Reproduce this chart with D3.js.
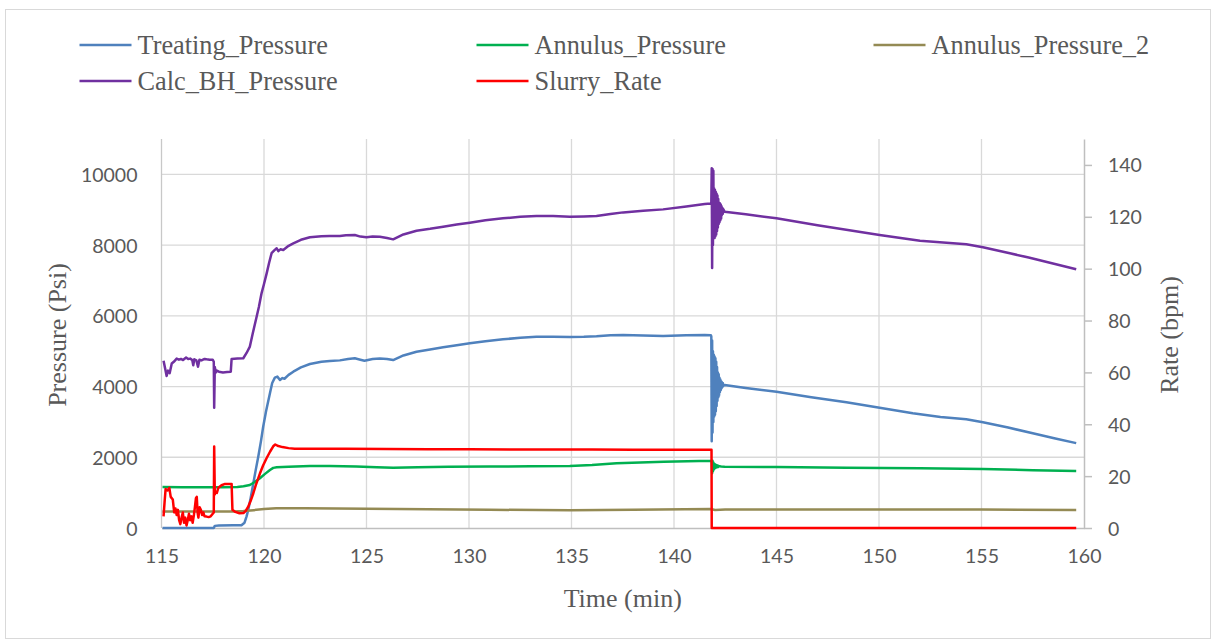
<!DOCTYPE html>
<html>
<head>
<meta charset="utf-8">
<script src="https://cdn.jsdelivr.net/npm/d3@7"></script>
<style>
  html, body { margin: 0; padding: 0; background: #ffffff; }
  svg { display: block; }
</style>
</head>
<body>
<svg id="chart" width="1216" height="644"></svg>
<script>
// ---------------- DATA ----------------
const seriesNames = ["Treating_Pressure", "Annulus_Pressure", "Annulus_Pressure_2", "Calc_BH_Pressure", "Slurry_Rate"];
const xTicks = [115, 120, 125, 130, 135, 140, 145, 150, 155, 160];
const leftTicks = [0, 2000, 4000, 6000, 8000, 10000];
const rightTicks = [0, 20, 40, 60, 80, 100, 120, 140];

// [time (min), pressure (psi)]
const treatingPressure = [
  [115.05,0],[117.55,0],[117.6,60],[117.8,70],[118.5,75],[118.9,80],[119.05,150],[119.15,330],[119.23,509],
  [119.35,850],[119.48,1263],[119.6,1650],[119.72,2017],[119.85,2450],[119.96,2864],[120.1,3300],[120.29,3808],
  [120.4,4100],[120.53,4251],[120.65,4280],[120.78,4185],[120.9,4240],[121.0,4220],[121.2,4330],[121.43,4420],
  [121.8,4540],[122.24,4637],[122.8,4700],[123.21,4720],[123.7,4740],[124.1,4780],[124.43,4798],[124.7,4760],
  [124.9,4730],[125.3,4780],[125.65,4790],[126.0,4780],[126.3,4750],[126.8,4880],[127.44,4986],[128.1,5050],
  [128.74,5109],[129.4,5170],[130.04,5222],[130.8,5280],[131.66,5335],[132.5,5380],[133.29,5410],[134.1,5410],
  [134.92,5400],[135.6,5405],[136.22,5420],[136.9,5450],[137.52,5460],[138.5,5445],[139.47,5430],[140.6,5450],
  [141.5,5455],[141.8,5450],[141.82,5420],[141.84,2450],[141.86,5300],[141.88,2700],[141.9,5000],[141.92,3000],
  [141.94,4900],[141.96,3150],[141.98,4850],[142.0,3200],[142.02,4800],[142.04,3300],[142.06,4700],[142.08,3450],
  [142.1,4550],[142.12,3600],[142.14,4400],[142.16,3700],[142.18,4350],[142.2,3750],[142.22,4250],[142.24,3850],
  [142.26,4200],[142.28,3900],[142.3,4150],[142.32,3950],[142.34,4120],[142.36,3980],[142.38,4100],[142.4,4020],
  [142.47,4043],[143.5,3960],[145.0,3855],[146.7,3700],[148.41,3553],[150.03,3403],[151.65,3243],[153.0,3140],
  [154.26,3073],[155.07,2988],[156.3,2840],[157.5,2677],[158.6,2530],[159.62,2400]
];

const annulusPressure = [
  [115.05,1160],[116,1155],[117,1150],[118,1150],[118.7,1160],[119.0,1180],[119.31,1216],[119.55,1300],
  [119.8,1405],[120.05,1530],[120.29,1640],[120.45,1700],[120.62,1716],[121.2,1735],[122.24,1753],[123.21,1753],
  [124.5,1740],[125.5,1720],[126.3,1705],[127.5,1715],[129,1730],[131,1740],[133,1745],[134.92,1753],[136,1780],
  [137.2,1829],[139.5,1870],[141.8,1900],[141.84,1905],[141.86,1550],[141.88,1900],[141.9,1600],[141.92,1850],
  [141.94,1650],[141.96,1820],[141.98,1680],[142.0,1800],[142.02,1700],[142.04,1790],[142.06,1710],[142.08,1775],
  [142.1,1720],[142.14,1765],[142.16,1725],[142.2,1750],[142.3,1740],[142.47,1735],[145,1725],[148.41,1705],
  [152,1690],[155.07,1670],[157.5,1635],[159.62,1610]
];

const annulusPressure2 = [
  [115.05,465],[117,465],[118.5,470],[119.0,480],[119.5,505],[120.0,535],[120.6,560],[122,560],[125,545],
  [128,530],[131,515],[134.92,505],[138,515],[141.8,535],[142.0,510],[142.5,520],[145,520],[150,520],[155,520],
  [159.62,510]
];

const calcBHPressure = [
  [115.1,4730],[115.18,4500],[115.25,4300],[115.32,4450],[115.4,4380],[115.5,4650],[115.6,4700],[115.74,4790],
  [115.85,4760],[115.95,4780],[116.05,4750],[116.2,4820],[116.3,4780],[116.4,4790],[116.5,4750],[116.55,4600],
  [116.6,4770],[116.7,4740],[116.78,4560],[116.85,4760],[116.95,4740],[117.1,4780],[117.2,4770],[117.35,4760],
  [117.5,4760],[117.55,4700],[117.57,3400],[117.6,4550],[117.65,4400],[117.7,4450],[117.8,4420],[118.0,4400],
  [118.2,4410],[118.38,4420],[118.42,4780],[118.7,4790],[118.99,4800],[119.15,4950],[119.31,5130],[119.45,5500],
  [119.64,5975],[119.75,6250],[119.88,6635],[120.0,6900],[120.13,7200],[120.25,7500],[120.37,7770],[120.5,7850],
  [120.62,7910],[120.7,7830],[120.8,7880],[120.94,7860],[121.2,7980],[121.43,8050],[121.8,8150],[122.24,8220],
  [122.8,8250],[123.2,8256],[123.7,8260],[124.0,8280],[124.43,8284],[124.7,8240],[125.0,8220],[125.3,8240],
  [125.65,8237],[126.0,8200],[126.3,8162],[126.8,8300],[127.44,8407],[128.1,8460],[128.74,8520],[129.4,8580],
  [130.04,8633],[130.8,8700],[131.66,8756],[132.5,8800],[133.29,8822],[134.1,8820],[134.92,8803],[135.6,8810],
  [136.22,8822],[136.9,8880],[137.52,8925],[138.5,8970],[139.47,9010],[140.6,9090],[141.5,9160],[141.8,9175],
  [141.82,9180],[141.84,10170],[141.86,7350],[141.88,10150],[141.9,8000],[141.92,10100],[141.94,8200],
  [141.96,9600],[141.98,8200],[142.0,9560],[142.02,8250],[142.04,9500],[142.06,8300],[142.08,9450],[142.1,8400],
  [142.12,9400],[142.14,8500],[142.16,9300],[142.18,8600],[142.2,9200],[142.22,8650],[142.24,9180],[142.26,8700],
  [142.28,9150],[142.3,8750],[142.32,9100],[142.34,8850],[142.36,9050],[142.38,8880],[142.4,9020],[142.47,8944],
  [143.5,8870],[145.0,8756],[147.0,8560],[150.03,8284],[152.0,8120],[154.26,8021],[155.07,7937],[157.3,7650],
  [159.62,7315]
];

// [time (min), rate (bpm)]
const slurryRate = [
  [115.1,4.5],[115.15,10],[115.2,15],[115.3,14.5],[115.38,15.5],[115.45,12],[115.55,11],[115.62,6],[115.68,7.5],
  [115.74,5],[115.8,7],[115.86,3],[115.92,1.5],[115.98,4],[116.04,6],[116.1,2],[116.16,4],[116.22,1],[116.28,3],
  [116.34,5.5],[116.4,3],[116.46,4.5],[116.52,2],[116.58,5],[116.63,8],[116.68,11.5],[116.72,12],[116.76,6],
  [116.8,4],[116.86,8],[116.92,7],[116.98,5],[117.04,6],[117.1,4.5],[117.2,4.4],[117.3,4.2],[117.4,4.5],[117.5,5.5],
  [117.55,6],[117.57,31.4],[117.6,13],[117.64,14],[117.7,13.5],[117.77,15.5],[117.85,16],[117.93,16.5],[118.1,17],
  [118.3,17],[118.42,17],[118.46,7],[118.6,6.2],[118.8,5.7],[119.0,5.8],[119.1,6.5],[119.23,8.2],[119.35,10.5],
  [119.48,13.4],[119.6,16.5],[119.8,21],[119.95,24],[120.13,27],[120.3,29.5],[120.45,31.5],[120.55,32.2],
  [120.7,31.6],[120.9,31.2],[121.2,30.8],[121.5,30.6],[122,30.6],[124,30.6],[126,30.5],[128,30.4],[130,30.4],
  [132,30.3],[134,30.3],[136,30.3],[138,30.2],[140,30.2],[141.83,30.2],[141.84,0],[159.62,0]
];

// ---------------- CHART ----------------
const colors = {
  Treating_Pressure: "#4f81bd",
  Annulus_Pressure: "#00b050",
  Annulus_Pressure_2: "#948a54",
  Calc_BH_Pressure: "#7030a0",
  Slurry_Rate: "#ff0000"
};

const plot = { left: 161.5, right: 1084, top: 139, bottom: 528 };
const svg = d3.select("#chart");

svg.append("rect").attr("x", 0).attr("y", 0).attr("width", 1216).attr("height", 644).attr("fill", "#ffffff");
svg.append("rect").attr("x", 5.5).attr("y", 9.5).attr("width", 1205).attr("height", 629)
  .attr("fill", "none").attr("stroke", "#d9d9d9").attr("stroke-width", 1);

const x = d3.scaleLinear().domain([115, 160]).range([plot.left, plot.right]);
const yL = d3.scaleLinear().domain([0, 11000]).range([plot.bottom, plot.top]);
const yR = d3.scaleLinear().domain([0, 150]).range([plot.bottom, plot.top]);

// gridlines
const grid = svg.append("g").attr("stroke", "#d9d9d9").attr("stroke-width", 1.3);
grid.selectAll("line.h").data(leftTicks.filter(d => d > 0)).join("line")
  .attr("x1", plot.left).attr("x2", plot.right)
  .attr("y1", d => yL(d)).attr("y2", d => yL(d));
grid.selectAll("line.v").data(xTicks.filter(d => d > 115 && d < 160)).join("line")
  .attr("y1", plot.top).attr("y2", plot.bottom)
  .attr("x1", d => x(d)).attr("x2", d => x(d));

// axis lines
svg.append("line").attr("x1", plot.left).attr("x2", plot.left).attr("y1", plot.top).attr("y2", plot.bottom)
  .attr("stroke", "#c8c8c8").attr("stroke-width", 1.3);

const tickFont = "Lato, 'Open Sans', sans-serif";
const tickColor = "#595959";

// bottom axis
const gx = svg.append("g").attr("transform", `translate(0,${plot.bottom})`)
  .call(d3.axisBottom(x).tickValues(xTicks).tickSize(0).tickPadding(21).tickFormat(d3.format("d")));
gx.select(".domain").attr("stroke", "#bfbfbf").attr("stroke-width", 1.5);
gx.selectAll("text").attr("font-family", tickFont).attr("font-size", "19.5px").attr("fill", tickColor);

// left axis
const gl = svg.append("g").attr("transform", `translate(${plot.left},0)`)
  .call(d3.axisLeft(yL).tickValues(leftTicks).tickSize(0).tickPadding(24).tickFormat(d3.format("d")));
gl.select(".domain").remove();
gl.selectAll("text").attr("font-family", tickFont).attr("font-size", "19.5px").attr("fill", tickColor).attr("dy", "0.36em");

// right axis
const gr = svg.append("g").attr("transform", `translate(${plot.right},0)`)
  .call(d3.axisRight(yR).tickValues(rightTicks).tickSize(8).tickSizeOuter(0).tickPadding(16).tickFormat(d3.format("d")));
gr.select(".domain").attr("stroke", "#bfbfbf").attr("stroke-width", 1.5);
gr.selectAll(".tick line").attr("stroke", "#bfbfbf").attr("stroke-width", 1.5);
gr.selectAll("text").attr("font-family", tickFont).attr("font-size", "19.5px").attr("fill", tickColor).attr("dy", "0.36em");

// axis titles
const titleFont = "'Liberation Serif', 'Times New Roman', serif";
svg.append("text").attr("x", (plot.left + plot.right) / 2).attr("y", 607)
  .attr("text-anchor", "middle").attr("font-family", titleFont).attr("font-size", "26px").attr("fill", tickColor)
  .text("Time (min)");
svg.append("text").attr("transform", "translate(66,335) rotate(-90)")
  .attr("text-anchor", "middle").attr("font-family", titleFont).attr("font-size", "26px").attr("fill", tickColor)
  .text("Pressure (Psi)");
svg.append("text").attr("transform", "translate(1178,335) rotate(-90)")
  .attr("text-anchor", "middle").attr("font-family", titleFont).attr("font-size", "26px").attr("fill", tickColor)
  .text("Rate (bpm)");

// series lines
const lineL = d3.line().x(d => x(d[0])).y(d => yL(d[1]));
const lineR = d3.line().x(d => x(d[0])).y(d => yR(d[1]));

const seriesData = [
  { name: "Treating_Pressure", data: treatingPressure, gen: lineL },
  { name: "Annulus_Pressure", data: annulusPressure, gen: lineL },
  { name: "Annulus_Pressure_2", data: annulusPressure2, gen: lineL },
  { name: "Calc_BH_Pressure", data: calcBHPressure, gen: lineL },
  { name: "Slurry_Rate", data: slurryRate, gen: lineR }
];

svg.append("g").selectAll("path").data(seriesData).join("path")
  .attr("d", s => s.gen(s.data))
  .attr("fill", "none")
  .attr("stroke", s => colors[s.name])
  .attr("stroke-width", 2.5)
  .attr("stroke-linejoin", "round");

// legend
const legendPos = [
  { col: 0, row: 0 }, { col: 1, row: 0 }, { col: 2, row: 0 },
  { col: 0, row: 1 }, { col: 1, row: 1 }
];
const legend = svg.append("g");
seriesNames.forEach((name, i) => {
  const p = legendPos[i];
  const lx = 79.5 + p.col * 397;
  const ly = 45 + p.row * 36;
  legend.append("line").attr("x1", lx).attr("x2", lx + 52).attr("y1", ly).attr("y2", ly)
    .attr("stroke", colors[name]).attr("stroke-width", 2.6);
  legend.append("text").attr("x", lx + 58).attr("y", ly + 8.5)
    .attr("font-family", titleFont).attr("font-size", "26.3px").attr("fill", tickColor)
    .text(name);
});
</script>
</body>
</html>
